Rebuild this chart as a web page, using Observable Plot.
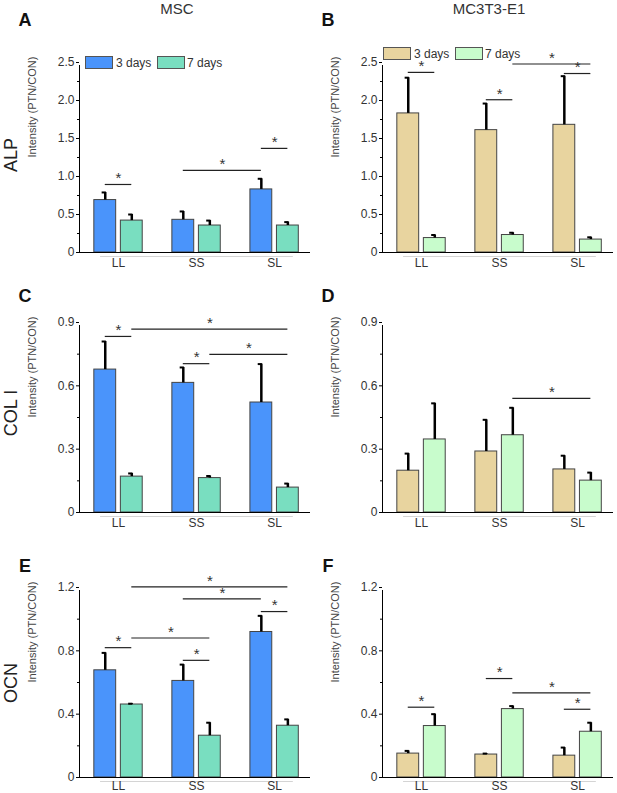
<!DOCTYPE html>
<html><head><meta charset="utf-8">
<script src="https://cdn.jsdelivr.net/npm/d3@7"></script>
<script src="https://cdn.jsdelivr.net/npm/@observablehq/plot@0.6"></script>
<style>
body{margin:0;background:#fff;}
#root{position:relative;width:617px;height:793px;font-family:"Liberation Sans",Arial,sans-serif;color:#222;overflow:hidden}
.abs{position:absolute;line-height:1;white-space:nowrap}
.panel{position:absolute}
.panel svg{overflow:visible}
</style></head><body><div id="root"></div>
<script>
// ---- categories / series ----
const groups = ["LL", "SS", "SL"];
const seriesNames = ["3 days", "7 days"];
const colTitles = ["MSC", "MC3T3-E1"];
const rowLabels = ["ALP", "COL I", "OCN"];
const panelLetters = ["A", "B", "C", "D", "E", "F"];
const yLabel = "Intensity (PTN/CON)";
const mscColors = ["#4a94fb", "#79dec0"];
const mc3Colors = ["#e8d49f", "#c8fccc"];

// ---- values (mean, sd) ----
// A: ALP, MSC
const aMean3 = [0.69, 0.43, 0.83], aSd3 = [0.10, 0.11, 0.14];
const aMean7 = [0.42, 0.355, 0.355], aSd7 = [0.08, 0.065, 0.045];
// B: ALP, MC3T3-E1
const bMean3 = [1.83, 1.61, 1.68], bSd3 = [0.47, 0.35, 0.64];
const bMean7 = [0.19, 0.23, 0.17], bSd7 = [0.04, 0.03, 0.03];
// C: COL I, MSC
const cMean3 = [0.677, 0.614, 0.521], cSd3 = [0.133, 0.073, 0.182];
const cMean7 = [0.17, 0.163, 0.118], cSd7 = [0.015, 0.01, 0.019];
// D: COL I, MC3T3-E1
const dMean3 = [0.198, 0.289, 0.204], dSd3 = [0.081, 0.15, 0.065];
const dMean7 = [0.346, 0.366, 0.151], dSd7 = [0.171, 0.13, 0.038];
// E: OCN, MSC
const eMean3 = [0.677, 0.61, 0.919], eSd3 = [0.11, 0.103, 0.102];
const eMean7 = [0.461, 0.264, 0.327], eSd7 = [0.005, 0.082, 0.04];
// F: OCN, MC3T3-E1
const fMean3 = [0.151, 0.145, 0.138], fSd3 = [0.017, 0.006, 0.051];
const fMean7 = [0.325, 0.432, 0.289], fSd7 = [0.075, 0.019, 0.057];

// significance brackets: [group from, series from, group to, series to, y level]
const aSig = [[0,0,0,1,0.895],[1,0,2,0,1.08],[2,0,2,1,1.37]];
const bSig = [[0,0,0,1,2.37],[1,0,1,1,2.01],[1,1,2,1,2.48],[2,0,2,1,2.355]];
const cSig = [[0,0,0,1,0.834],[0,1,2,1,0.869],[1,0,1,1,0.705],[1,1,2,1,0.749]];
const dSig = [[1,1,2,1,0.541]];
const eSig = [[0,1,2,1,1.204],[1,0,2,0,1.128],[2,0,2,1,1.048],[0,0,0,1,0.82],[0,1,1,1,0.881],[1,0,1,1,0.74]];
const fSig = [[0,0,0,1,0.444],[1,0,1,1,0.625],[1,1,2,1,0.535],[2,0,2,1,0.431]];

// ---- y tick values ----
const row1Major = [0, 0.5, 1.0, 1.5, 2.0, 2.5], row1Minor = [0.25, 0.75, 1.25, 1.75, 2.25];
const row2Major = [0, 0.3, 0.6, 0.9], row2Minor = [0.15, 0.45, 0.75];
const row3Major = [0, 0.4, 0.8, 1.2], row3Minor = [0.2, 0.6, 1.0];

const root = document.getElementById("root");
const FONT = '"Liberation Sans", Arial, sans-serif';
const fmt = d => d === 0 ? "0" : d.toFixed(1);
const off = s => s === 0 ? -0.17 : 0.17;
const half = 0.14;
const xDom = [-0.5, 2.46];

function panel(o) {
  const rows = [];
  groups.forEach((g, i) => {
    rows.push({g: i, s: 0, name: seriesNames[0], v: o.m3[i], e: o.m3[i] + o.s3[i]});
    rows.push({g: i, s: 1, name: seriesNames[1], v: o.m7[i], e: o.m7[i] + o.s7[i]});
  });
  const sigRows = o.sig.map(([g1, s1, g2, s2, y]) => ({x1: g1 + off(s1), x2: g2 + off(s2), y}));
  const cx = d => d.g + off(d.s);
  const svg = Plot.plot({
    width: 310, height: o.height,
    marginLeft: 79, marginRight: 0, marginTop: o.mt, marginBottom: o.mb,
    x: {domain: xDom, axis: null},
    y: {domain: [0, o.yMax]},
    color: {domain: seriesNames, range: o.colors},
    style: {background: "transparent", fontFamily: FONT, fontSize: "12px", color: "#333", overflow: "visible"},
    marks: [
      Plot.ruleY([0], {x1: () => -0.23, x2: () => 2.24, dy: 4, stroke: "#d4d4d4"}),
      Plot.rectY(rows, {x1: d => cx(d) - half, x2: d => cx(d) + half, y: "v", fill: "name", stroke: "#444", strokeWidth: 1}),
      Plot.ruleX(rows, {x: cx, y1: "v", y2: "e", stroke: "#000", strokeWidth: 2.5}),
      Plot.ruleY(rows, {y: "e", x1: d => cx(d) - 0.04, x2: d => cx(d) + 0.014, stroke: "#000", strokeWidth: 2}),
      Plot.ruleY(sigRows, {y: "y", x1: "x1", x2: "x2", stroke: "#222", strokeWidth: 1.2}),
      Plot.text(sigRows, {x: d => (d.x1 + d.x2) / 2, y: "y", text: () => "*", dy: -6, fontSize: 15, fill: "#333"}),
      Plot.ruleY([0], {stroke: "#000", strokeWidth: 1.2}),
      Plot.ruleX([xDom[0]], {y1: () => 0, y2: () => o.yMax, stroke: "#000", strokeWidth: 1, insetBottom: -3}),
      Plot.axisY({ticks: o.major, tickFormat: fmt, tickSize: 3, tickPadding: 2, label: null, fontSize: 12, stroke: "#000"}),
      Plot.axisY({ticks: o.minor, tickFormat: () => "", tickSize: 2, label: null, stroke: "#000"}),
      Plot.text(groups, {x: (d, i) => i, y: () => 0, text: d => d, dy: o.xLabDy, fontSize: 12, fill: "#333"}),
      Plot.text([yLabel], {frameAnchor: "left", dx: -47, rotate: -90, text: d => d, fontSize: 11, fill: "#444"})
    ]
  });
  const wrap = document.createElement("div");
  wrap.className = "panel";
  wrap.style.left = o.left + "px";
  wrap.style.top = o.top + "px";
  wrap.appendChild(svg);
  root.appendChild(wrap);
}

const rowGeom = [
  {top: 0, height: 270, mt: 62, mb: 18, yMax: 2.5, major: row1Major, minor: row1Minor, xLabDy: 11},
  {top: 265, height: 265, mt: 57, mb: 18, yMax: 0.9, major: row2Major, minor: row2Minor, xLabDy: 11},
  {top: 530, height: 263, mt: 57, mb: 16, yMax: 1.2, major: row3Major, minor: row3Minor, xLabDy: 8.5}
];
const panelData = [
  [{m3: aMean3, s3: aSd3, m7: aMean7, s7: aSd7, sig: aSig}, {m3: bMean3, s3: bSd3, m7: bMean7, s7: bSd7, sig: bSig}],
  [{m3: cMean3, s3: cSd3, m7: cMean7, s7: cSd7, sig: cSig}, {m3: dMean3, s3: dSd3, m7: dMean7, s7: dSd7, sig: dSig}],
  [{m3: eMean3, s3: eSd3, m7: eMean7, s7: eSd7, sig: eSig}, {m3: fMean3, s3: fSd3, m7: fMean7, s7: fSd7, sig: fSig}]
];
rowGeom.forEach((rg, r) => {
  [0, 1].forEach(c => {
    panel(Object.assign({}, rg, panelData[r][c], {left: c === 0 ? 0 : 303, colors: c === 0 ? mscColors : mc3Colors}));
  });
});

function addText(txt, x, y, css, rotate) {
  const d = document.createElement("div");
  d.className = "abs";
  d.textContent = txt;
  d.style.left = x + "px";
  d.style.top = y + "px";
  d.style.transform = "translate(-50%,-50%)" + (rotate ? " rotate(" + rotate + "deg)" : "");
  Object.assign(d.style, css);
  root.appendChild(d);
}
// column titles
addText(colTitles[0], 177, 8, {fontSize: "15px", color: "#333"});
addText(colTitles[1], 489, 8, {fontSize: "15px", color: "#333"});
// panel letters
const letterPos = [[25, 20], [328, 20], [25, 296], [328, 296], [25, 566], [328, 566]];
panelLetters.forEach((L, i) => addText(L, letterPos[i][0], letterPos[i][1], {fontSize: "18px", fontWeight: "bold", color: "#111"}));
// row labels
const rowLabelPos = [[11, 155], [11, 413], [11, 683]];
rowLabels.forEach((L, i) => addText(L, rowLabelPos[i][0], rowLabelPos[i][1], {fontSize: "18px", color: "#222"}, -90));

// legends
function legend(x, y, colors) {
  const pos = [[x, x + 31], [x + 72, x + 102]];
  seriesNames.forEach((n, i) => {
    const b = document.createElement("div");
    b.style.cssText = `position:absolute;left:${pos[i][0]}px;top:${y}px;width:26px;height:11px;background:${colors[i]};border:1px solid #555`;
    root.appendChild(b);
    const t = document.createElement("div");
    t.className = "abs";
    t.textContent = n;
    t.style.cssText += `left:${pos[i][1]}px;top:${y + 7}px;transform:translateY(-50%);font-size:12px;color:#333`;
    root.appendChild(t);
  });
}
legend(85, 56, mscColors);
legend(383, 47, mc3Colors);
</script></body></html>
